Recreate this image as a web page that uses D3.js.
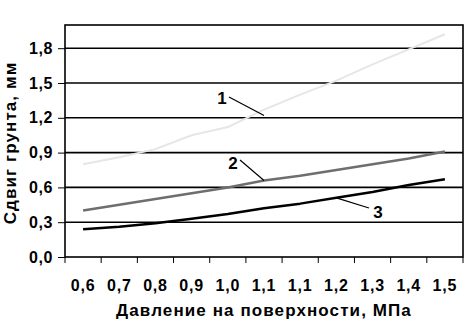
<!DOCTYPE html>
<html><head><meta charset="utf-8">
<script src="https://cdn.jsdelivr.net/npm/d3@7"></script>
<style>body{margin:0;background:#fff}svg{display:block}</style>
</head><body><svg id="c" width="475" height="324"></svg>
<script>
const categories = ["0,6","0,7","0,8","0,9","1,0","1,1","1,1","1,2","1,3","1,4","1,5"];
const series1 = [0.80,0.86,0.93,1.05,1.12,1.27,1.40,1.52,1.66,1.79,1.92];
const series2 = [0.40,0.45,0.50,0.55,0.60,0.66,0.70,0.75,0.80,0.85,0.91];
const series3 = [0.24,0.26,0.29,0.33,0.37,0.42,0.46,0.51,0.56,0.62,0.67];
const yTicks = [0,0.3,0.6,0.9,1.2,1.5,1.8];
const seriesNames = ["1","2","3"];

const svg = d3.select("#c");
const L=65, R=463, T=25, B=257;
const x = d3.scaleBand().domain(d3.range(categories.length)).range([L,R]);
const y = d3.scaleLinear().domain([0,2.0]).range([B,T]);
const fmt = d => d.toFixed(1).replace(".",",");
const font = "'Liberation Sans', Arial, sans-serif";

// grid
svg.append("g").selectAll("line").data(yTicks.filter(d=>d>0)).join("line")
  .attr("x1",L).attr("x2",R).attr("y1",d=>y(d)).attr("y2",d=>y(d))
  .attr("stroke","#000").attr("stroke-width",1.6);

// y axis
const ya = svg.append("g").attr("transform",`translate(${L},0)`)
  .call(d3.axisLeft(y).tickValues(yTicks).tickFormat(fmt).tickSize(7).tickPadding(5));
ya.select(".domain").remove();
ya.selectAll("line").attr("stroke","#000");
ya.selectAll("text").attr("font-family",font).attr("font-weight","bold").attr("font-size",16)
  .attr("letter-spacing",0.6).attr("fill","#000");

// x axis
const xa = svg.append("g").attr("transform",`translate(0,${B})`)
  .call(d3.axisBottom(x).tickFormat(i=>categories[i]).tickSize(0).tickPadding(23));
xa.select(".domain").remove();
xa.selectAll("text").attr("font-family",font).attr("font-weight","bold").attr("font-size",16)
  .attr("letter-spacing",0.8).attr("fill","#000");
const bounds = d3.range(categories.length+1).map(i=> i<categories.length ? x(i) : x(categories.length-1)+x.bandwidth());
svg.append("g").selectAll("line").data(bounds).join("line")
  .attr("x1",d=>d).attr("x2",d=>d).attr("y1",B).attr("y2",B+6)
  .attr("stroke","#000").attr("stroke-width",1);

// frame
svg.append("rect").attr("x",L).attr("y",T).attr("width",R-L).attr("height",B-T)
  .attr("fill","none").attr("stroke","#000").attr("stroke-width",1.6);

// lines
const line = d3.line().x((d,i)=>x(i)+x.bandwidth()/2).y(d=>y(d));
const styles = [
  {data:series1, color:"#e6e6e6", w:2},
  {data:series2, color:"#6e6e6e", w:2.5},
  {data:series3, color:"#000", w:2.5}
];
styles.forEach(s=>{
  svg.append("path").datum(s.data).attr("d",line).attr("fill","none")
    .attr("stroke",s.color).attr("stroke-width",s.w).attr("stroke-linejoin","round");
});

// labels with leaders
const cx = i => x(i)+x.bandwidth()/2;
const labels = [
  {t:seriesNames[0], lx:222, ly:104, x1:229, y1:97, xi:5, yv:series1, off:-0.05},
  {t:seriesNames[1], lx:233, ly:169, x1:240, y1:160, xi:5, yv:series2, off:0},
  {t:seriesNames[2], lx:378, ly:218, x1:369, y1:208, xi:7, yv:series3, off:0}
];
labels.forEach(l=>{
  const tx = cx(l.xi);
  const ty = y(l.yv[l.xi] + l.off);
  svg.append("line").attr("x1",l.x1).attr("y1",l.y1).attr("x2",tx).attr("y2",ty)
    .attr("stroke","#000").attr("stroke-width",1.2);
  svg.append("text").attr("x",l.lx).attr("y",l.ly).attr("text-anchor","middle")
    .attr("font-family",font).attr("font-weight","bold").attr("font-size",17).text(l.t);
});

// titles
svg.append("text").attr("x",264).attr("y",316).attr("text-anchor","middle")
  .attr("font-family",font).attr("font-weight","bold").attr("font-size",17).attr("letter-spacing",1.1)
  .text("Давление на поверхности, МПа");
svg.append("text").attr("transform","translate(16,143) rotate(-90)").attr("text-anchor","middle")
  .attr("font-family",font).attr("font-weight","bold").attr("font-size",17).attr("letter-spacing",1.1)
  .text("Сдвиг грунта, мм");
</script></body></html>
